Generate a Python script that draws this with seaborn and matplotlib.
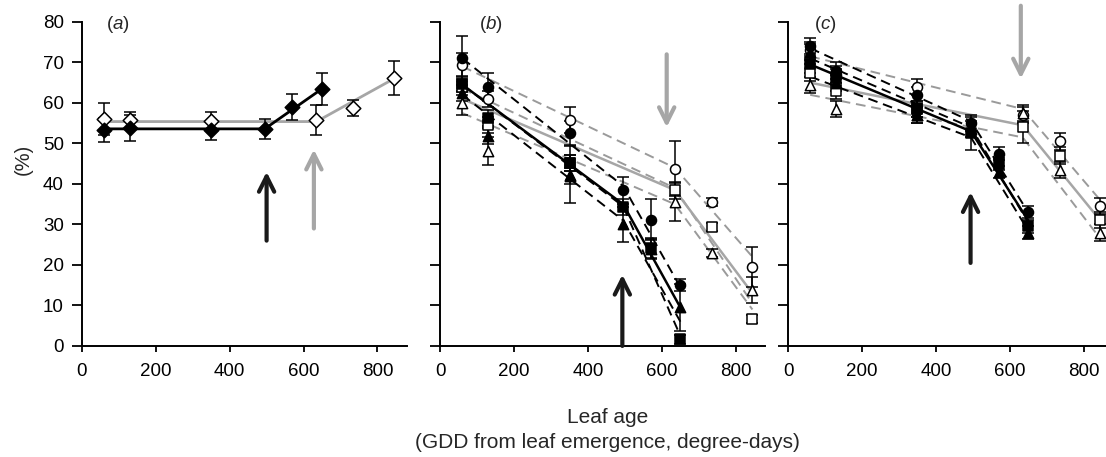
import matplotlib
matplotlib.use("Agg")
import matplotlib.pyplot as plt
import seaborn as sns

sns.set_style("ticks")
plt.rcParams["font.family"] = ["Liberation Sans", "DejaVu Sans"]
plt.rcParams["mathtext.fontset"] = "custom"
plt.rcParams["mathtext.it"] = "Liberation Sans:italic"
plt.rcParams["mathtext.rm"] = "Liberation Sans"

# sampling dates (GDD from leaf emergence)
x_black = [60, 130, 350, 495, 570, 650]
x_grey = [60, 130, 350, 635, 735, 845]
# broken-stick fit nodes
fx_black = [60, 495, 650]
fx_grey = [60, 635, 845]

# panel a
a_black = [53.3, 53.8, 53.2, 53.6, 59.0, 63.5]
a_black_err = [3.0, 3.2, 2.4, 2.5, 3.2, 4.0]
a_grey = [56.0, 55.8, 55.5, 55.8, 58.7, 66.2]
a_grey_err = [4.0, 2.0, 2.3, 3.6, 2.0, 4.2]
a_black_fit = [53.6, 53.6, 63.5]
a_grey_fit = [55.4, 55.4, 66.0]

# panel b
b_fc = [71.0, 64.0, 52.6, 38.4, 31.2, 15.0]
b_fc_err = [5.6, 3.5, 3.0, 3.3, 5.0, 1.5]
b_fs = [64.7, 56.3, 45.2, 34.3, 24.2, 1.6]
b_fs_err = [2.0, 2.0, 2.0, 2.0, 2.5, 1.0]
b_ft = [62.4, 51.8, 41.9, 30.0, 24.0, 9.5]
b_ft_err = [2.0, 2.0, 2.0, 4.4, 2.5, 5.8]
b_oc = [69.4, 61.0, 55.9, 43.7, 35.5, 19.5]
b_oc_err = [3.0, 2.0, 3.2, 6.8, 1.0, 5.0]
b_os = [63.9, 54.6, 45.2, 38.4, 29.4, 6.6]
b_os_err = [2.0, 2.0, 2.0, 2.0, 1.0, 1.0]
b_ot = [60.0, 48.2, 42.3, 35.5, 23.0, 13.8]
b_ot_err = [3.0, 3.4, 7.0, 4.7, 1.0, 3.3]
b_black_fits = [[71.0, 39.5, 14.5], [64.5, 34.5, 2.5], [62.0, 31.0, 6.0]]
b_black_mean = [64.5, 35.0, 9.5]
b_grey_fits = [[69.0, 44.0, 22.0], [63.5, 39.0, 10.5], [57.5, 35.0, 9.0]]
b_grey_mean = [61.0, 38.5, 13.0]

# panel c
c_fc = [74.0, 68.0, 62.0, 55.0, 47.5, 33.0]
c_fc_err = [2.0, 2.0, 2.0, 2.0, 1.5, 1.5]
c_fs = [69.5, 66.5, 58.5, 52.5, 45.0, 29.5]
c_fs_err = [2.0, 2.0, 2.0, 4.0, 1.5, 1.5]
c_ft = [72.5, 65.0, 57.0, 53.5, 43.0, 28.0]
c_ft_err = [2.0, 2.0, 2.0, 2.0, 1.5, 1.5]
c_oc = [73.0, 67.0, 64.0, 57.0, 50.5, 34.5]
c_oc_err = [2.0, 2.0, 2.0, 2.0, 2.0, 2.0]
c_os = [67.5, 63.0, 58.5, 54.0, 47.0, 31.0]
c_os_err = [2.0, 2.0, 2.0, 4.0, 2.0, 2.0]
c_ot = [64.5, 58.5, 57.0, 57.5, 43.5, 28.0]
c_ot_err = [2.0, 2.0, 2.0, 2.0, 2.0, 2.0]
c_black_fits = [[73.5, 55.5, 33.0], [71.0, 54.0, 30.5], [66.5, 51.5, 28.5]]
c_black_mean = [69.5, 53.0, 31.0]
c_grey_fits = [[71.5, 58.5, 36.0], [62.0, 51.5, 26.5]]
c_grey_mean = [65.0, 54.5, 31.0]

# arrows: (x, y_start, y_end)
arrows_a = [(500, 26, 43, "black"), (628, 29, 48.5, "grey")]
arrows_b = [(613, 72, 54, "grey"), (493, 0, 17.6, "black")]
arrows_c = [(630, 84, 66, "grey"), (494, 20.5, 38, "black")]

GREY = "#a6a6a6"
DGREY = "#9a9a9a"

fig = plt.figure(figsize=(11.06, 4.57), dpi=100)
ax_a = fig.add_axes([0.074, 0.243, 0.294, 0.709])
ax_b = fig.add_axes([0.398, 0.243, 0.294, 0.709])
ax_c = fig.add_axes([0.7125, 0.243, 0.294, 0.709])


def fit_line(ax, fx, fy, color, lw, dashed):
    ls = (0, (5, 3)) if dashed else "-"
    sns.lineplot(x=fx, y=fy, ax=ax, color=color, lw=lw, linestyle=ls, zorder=2)


def points(ax, x, y, err, marker, filled, s=52):
    ax.errorbar(x, y, yerr=err, fmt="none", ecolor="black", elinewidth=1.1,
                capsize=4.5, capthick=1.1, zorder=3)
    sns.scatterplot(x=x, y=y, ax=ax, marker=marker, s=s,
                    color="black" if filled else "white",
                    edgecolor="black", linewidth=1.1, zorder=4)


def arrow(ax, x, y0, y1, color):
    c = "#1a1a1a" if color == "black" else GREY
    ax.annotate("", xy=(x, y1), xytext=(x, y0), annotation_clip=False,
                arrowprops=dict(arrowstyle="->,head_length=1.1,head_width=0.55",
                                color=c, lw=3, shrinkA=0, shrinkB=0, clip_on=False))


# panel a
fit_line(ax_a, fx_grey, a_grey_fit, GREY, 2, False)
fit_line(ax_a, fx_black, a_black_fit, "black", 2, False)
points(ax_a, x_grey, a_grey, a_grey_err, "D", False, 55)
points(ax_a, x_black, a_black, a_black_err, "D", True, 55)
for x, y0, y1, c in arrows_a:
    arrow(ax_a, x, y0, y1, c)

# panel b
for fy in b_grey_fits:
    fit_line(ax_b, fx_grey, fy, DGREY, 1.4, True)
fit_line(ax_b, fx_grey, b_grey_mean, GREY, 1.8, False)
for fy in b_black_fits:
    fit_line(ax_b, fx_black, fy, "black", 1.4, True)
fit_line(ax_b, fx_black, b_black_mean, "black", 1.8, False)
points(ax_b, x_grey, b_oc, b_oc_err, "o", False)
points(ax_b, x_grey, b_os, b_os_err, "s", False, 42)
points(ax_b, x_grey, b_ot, b_ot_err, "^", False, 55)
points(ax_b, x_black, b_fc, b_fc_err, "o", True)
points(ax_b, x_black, b_fs, b_fs_err, "s", True, 42)
points(ax_b, x_black, b_ft, b_ft_err, "^", True, 55)
for x, y0, y1, c in arrows_b:
    arrow(ax_b, x, y0, y1, c)

# panel c
for fy in c_grey_fits:
    fit_line(ax_c, fx_grey, fy, DGREY, 1.4, True)
fit_line(ax_c, fx_grey, c_grey_mean, GREY, 1.8, False)
for fy in c_black_fits:
    fit_line(ax_c, fx_black, fy, "black", 1.4, True)
fit_line(ax_c, fx_black, c_black_mean, "black", 1.8, False)
points(ax_c, x_grey, c_oc, c_oc_err, "o", False)
points(ax_c, x_grey, c_os, c_os_err, "s", False, 42)
points(ax_c, x_grey, c_ot, c_ot_err, "^", False, 55)
points(ax_c, x_black, c_fc, c_fc_err, "o", True)
points(ax_c, x_black, c_fs, c_fs_err, "s", True, 42)
points(ax_c, x_black, c_ft, c_ft_err, "^", True, 55)
for x, y0, y1, c in arrows_c:
    arrow(ax_c, x, y0, y1, c)

for ax, lab, lx in [(ax_a, "a", 98), (ax_b, "b", 136), (ax_c, "c", 100)]:
    ax.set_xlim(0, 880)
    ax.set_ylim(0, 80)
    ax.set_xticks([0, 200, 400, 600, 800])
    ax.set_yticks(range(0, 81, 10))
    ax.set_xlabel("")
    ax.set_ylabel("")
    sns.despine(ax=ax)
    for sp in ["left", "bottom"]:
        ax.spines[sp].set_linewidth(1.4)
        ax.spines[sp].set_color("black")
    ax.tick_params(axis="y", length=7, width=1.3, labelsize=13.5, colors="black", pad=6)
    ax.tick_params(axis="x", length=4.5, width=1.3, labelsize=13.5, colors="black", pad=8)
    ax.text(lx, 79.3, "($\\it{" + lab + "}$)", fontsize=13.5, ha="center", va="center")
    if ax is not ax_a:
        ax.set_yticklabels([])

ax_a.set_ylabel("(%)", fontsize=14.5)
ax_a.yaxis.set_label_coords(-0.15, 0.577)
fig.text(0.549, 0.087, "Leaf age", ha="center", va="center", fontsize=15)
fig.text(0.549, 0.031, "(GDD from leaf emergence, degree-days)", ha="center",
         va="center", fontsize=15)

fig.savefig("out.png", dpi=100)
